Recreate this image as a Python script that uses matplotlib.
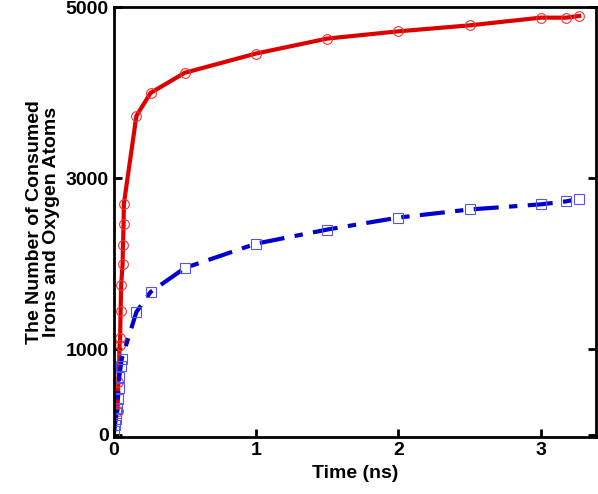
import matplotlib.pyplot as plt

plt.rcParams['font.family'] = ['Liberation Sans', 'DejaVu Sans']

t_fe = [0.028, 0.033, 0.042, 0.046, 0.049, 0.053, 0.063, 0.066, 0.07, 0.072,
        0.16, 0.26, 0.5, 1.0, 1.5, 2.0, 2.5, 3.0, 3.18, 3.27]
n_fe = [280, 620, 1050, 1130, 1450, 1750, 2000, 2220, 2460, 2700,
        3730, 4000, 4235, 4460, 4635, 4720, 4790, 4880, 4880, 4900]
t_o = [0.005, 0.01, 0.015, 0.02, 0.025, 0.03, 0.035, 0.04, 0.05, 0.056,
       0.16, 0.26, 0.5, 1.0, 1.5, 2.0, 2.5, 3.0, 3.18, 3.27]
n_o = [40, 110, 180, 250, 310, 420, 550, 680, 800, 880,
       1435, 1670, 1950, 2235, 2400, 2540, 2635, 2695, 2730, 2760]

fig, ax = plt.subplots(figsize=(5.98, 4.94), dpi=100)
fig.subplots_adjust(left=0.19, right=0.997, top=0.985, bottom=0.115)

ax.plot([0] + t_fe, [450] + n_fe, color='#dd0000', lw=3)
ax.plot(t_fe, n_fe, 'o', mfc='none', mec='#ee3333', ms=7, mew=0.8)
ax.plot([0] + t_o, [0] + n_o, color='#0000cc', lw=3, ls=(0, (6, 2.5, 2, 2.5)))
ax.plot(t_o, n_o, 's', mfc='none', mec='#5555ee', ms=7, mew=0.8)

ax.set_xlim(0, 3.39)
ax.set_ylim(-30, 5000)
ax.set_xticks([0, 1, 2, 3])
ax.set_yticks([0, 1000, 3000, 5000])
for s in ax.spines.values():
    s.set_linewidth(2)
ax.tick_params(direction='in', width=2, length=6, labelsize=14, right=True)
for lab in ax.get_xticklabels() + ax.get_yticklabels():
    lab.set_fontweight('bold')
ax.set_xlabel('Time (ns)', fontsize=14, fontweight='bold')
ax.set_ylabel('The Number of Consumed\nIrons and Oxygen Atoms', fontsize=14,
              fontweight='bold', linespacing=1.0)

fig.savefig('out.png')
